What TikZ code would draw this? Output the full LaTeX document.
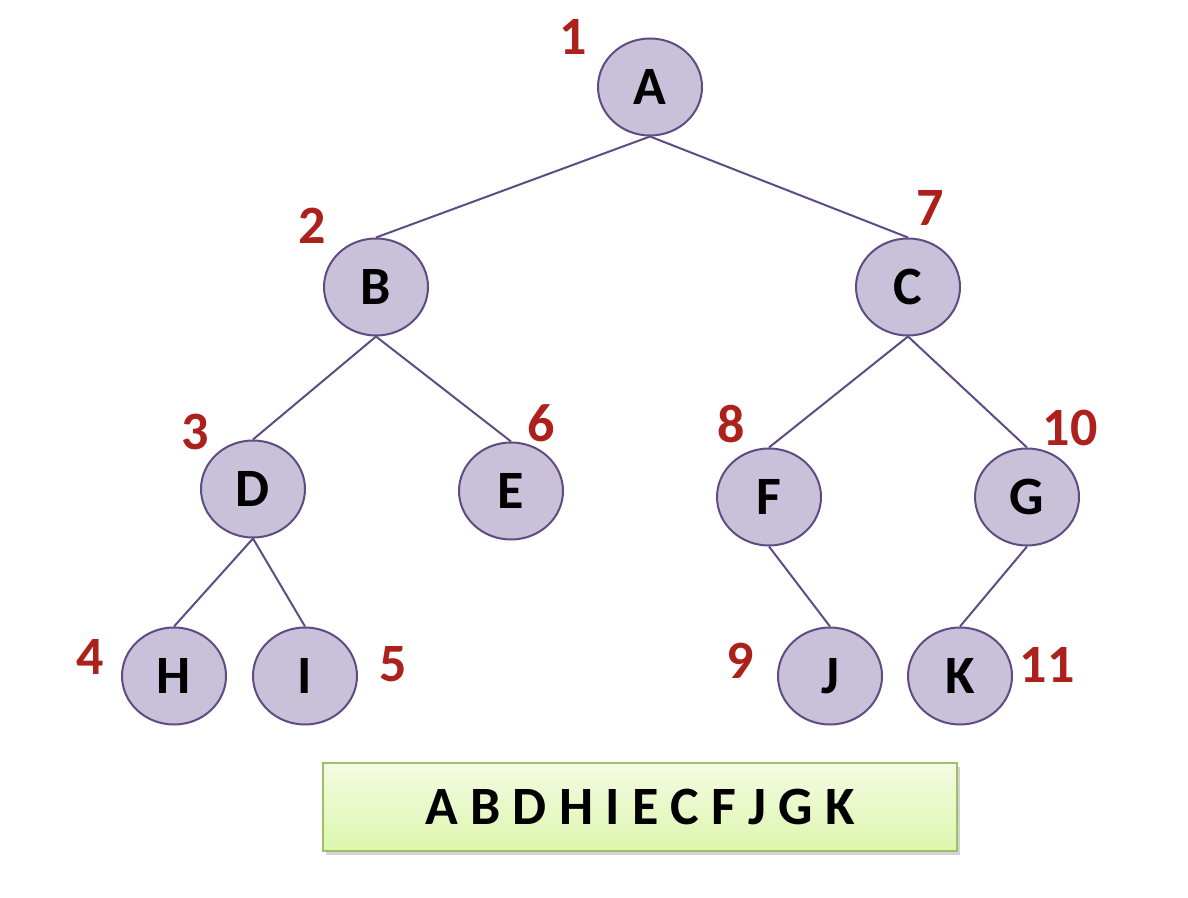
\documentclass[tikz,border=0pt]{standalone}
\usepackage{fontspec}
\setmainfont{Carlito}
\usetikzlibrary{shapes.geometric,shadows}
\definecolor{vfill}{RGB}{201,192,218}
\definecolor{vline}{RGB}{94,76,130}
\definecolor{numred}{RGB}{172,33,28}
\definecolor{boxtop}{RGB}{243,251,226}
\definecolor{boxbot}{RGB}{222,246,174}
\definecolor{boxline}{RGB}{160,190,100}
\begin{document}
\begin{tikzpicture}[x=0.5pt,y=-0.5pt,
  vert/.style={draw=vline,line width=1pt,fill=vfill,ellipse,minimum width=52pt,minimum height=48.5pt,inner sep=0pt,font=\fontsize{27}{30}\selectfont\bfseries},
  num/.style={text=numred,font=\fontsize{27}{30}\selectfont\bfseries,inner sep=0pt},
  edge/.style={draw=vline,line width=1pt}]
\useasboundingbox (0,0) rectangle (1188,898);
\node[vert] (A) at (650,87) {A};
\node[vert] (B) at (376,287) {B};\node[vert] (C) at (908,287) {C};
\node[vert] (D) at (253,489) {D};\node[vert] (E) at (511,491) {E};
\node[vert] (F) at (769,497) {F};\node[vert] (G) at (1027,497) {G};
\node[vert] (H) at (174,676) {H};\node[vert] (I) at (305,676) {I};
\node[vert] (J) at (830,676) {J};\node[vert] (K) at (960,676) {K};
% visiting order
\node[num] (n1) at (573,37) {1};\node[num] (n2) at (312,226) {2};
\node[num] (n3) at (195,432) {3};\node[num] (n4) at (90,657) {4};
\node[num] (n5) at (393,664) {5};\node[num] (n6) at (541,423) {6};
\node[num] (n7) at (930,208) {7};\node[num] (n8) at (731,424) {8};
\node[num] (n9) at (740,661) {9};\node[num] (n10) at (1070,428) {10};
\node[num] (n11) at (1047,665) {11};
\foreach \p/\c in {A/B,A/C,B/D,B/E,C/F,C/G,D/H,D/I,F/J,G/K}
  \draw[edge] (\p.south)--(\c.north);
\node[draw=boxline,line width=1pt,top color=boxtop,bottom color=boxbot,drop shadow={opacity=0.35,shadow xshift=1.5pt,shadow yshift=-2pt},
  minimum width=317pt,minimum height=44pt,inner sep=0pt,font=\fontsize{27}{30}\selectfont\bfseries] (order) at (640,807) {A B D H I E C F J G K};
\end{tikzpicture}
\end{document}
